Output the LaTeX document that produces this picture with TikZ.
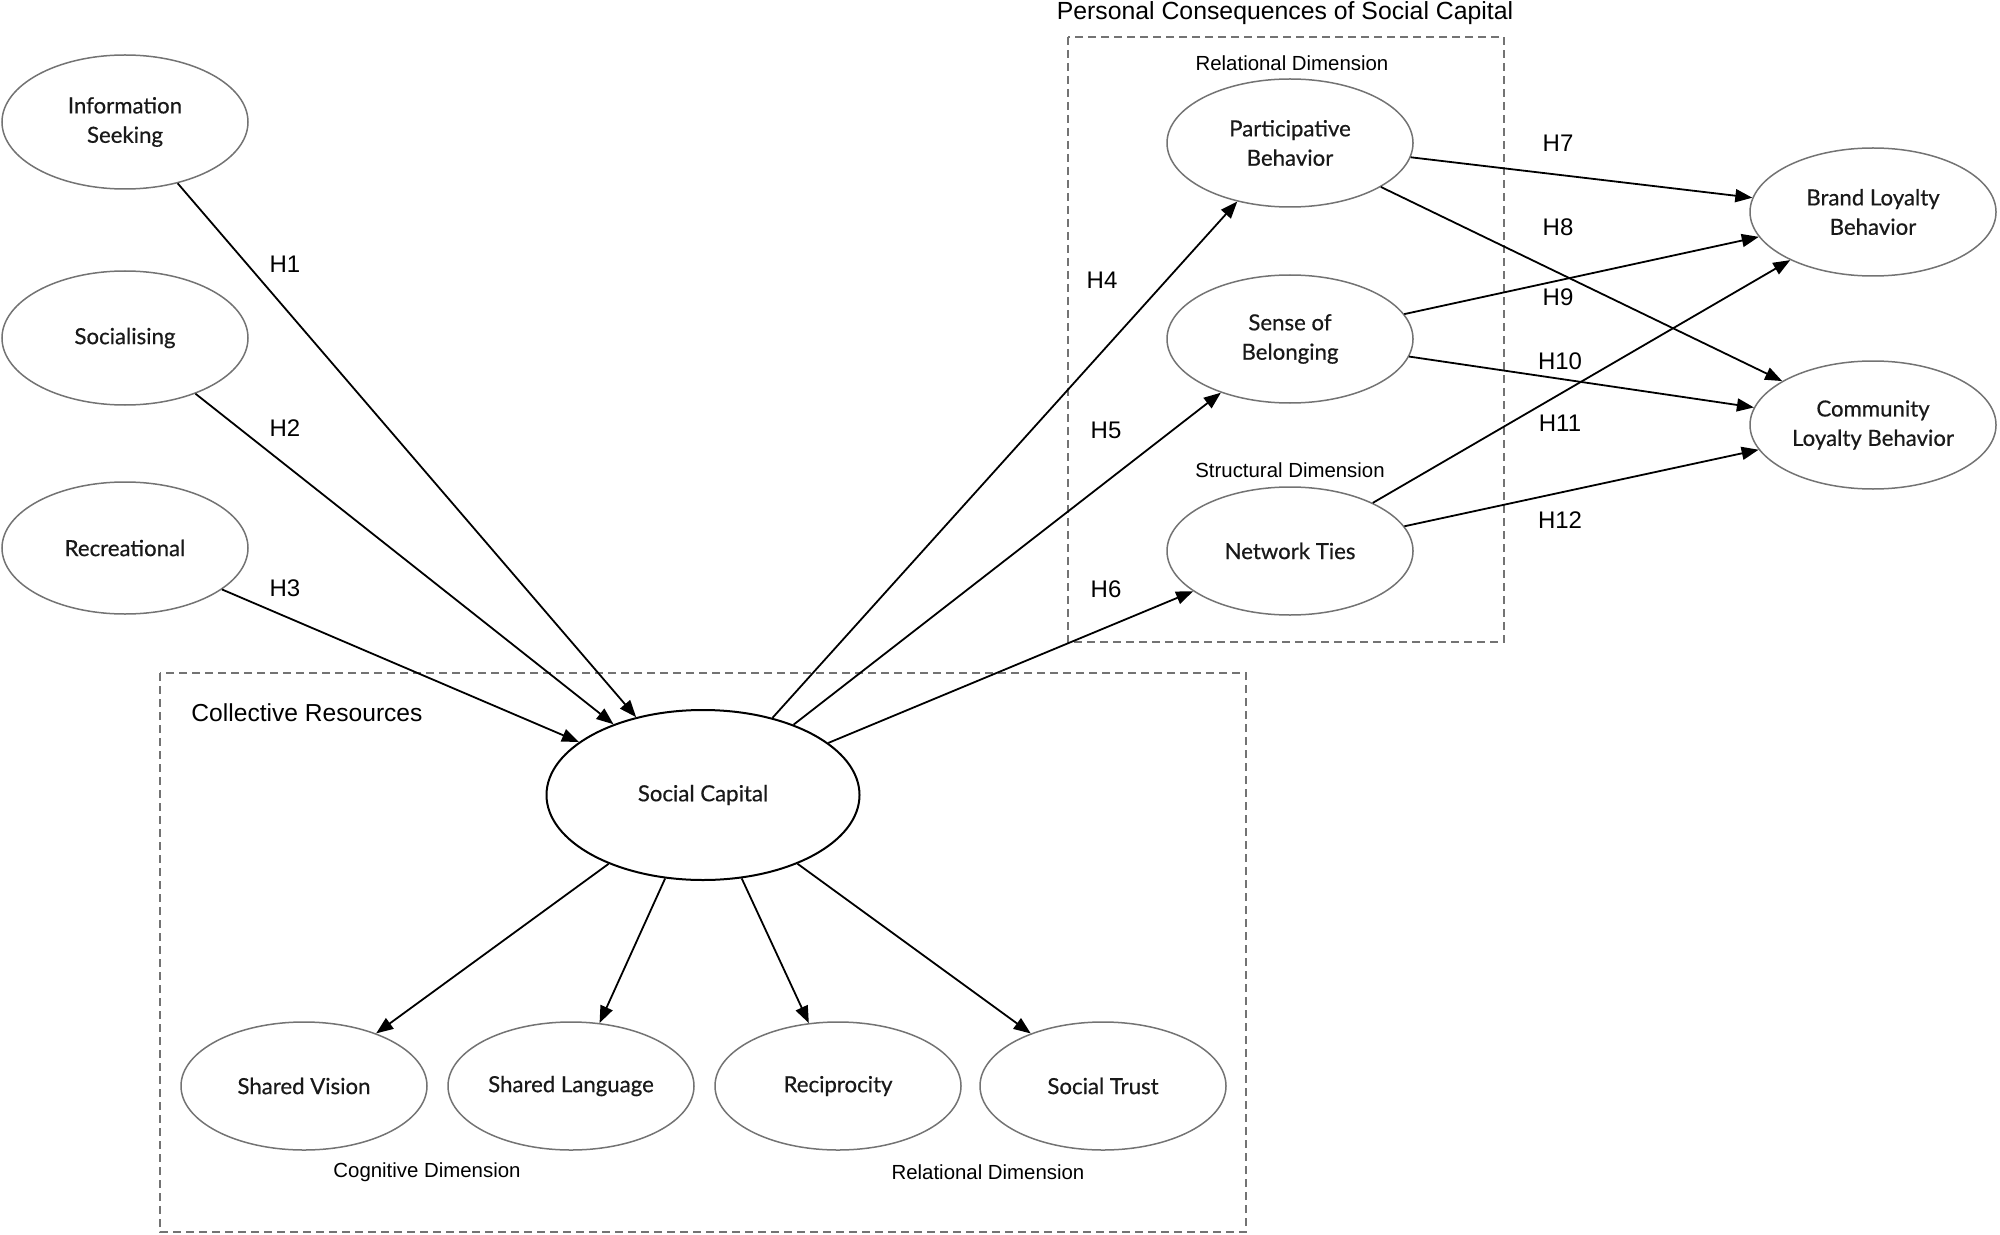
\documentclass[tikz,border=0pt]{standalone}
\usepackage{fontspec}
\setmainfont{Liberation Sans}
\newfontfamily\gill{Lato}[FakeBold=0.5]
\usetikzlibrary{shapes.geometric,arrows.meta}
\begin{document}
\begin{tikzpicture}[x=0.5pt,y=-0.5pt,
  ell/.style={ellipse, draw=black!55, line width=0.75pt, inner sep=0pt,
    minimum width=123pt, minimum height=64pt, align=center, text=black!90,
    font=\gill\fontsize{11.1}{14.7}\selectfont},
  bigell/.style={ell, draw=black, line width=1pt, minimum width=156.5pt, minimum height=85pt},
  arr/.style={-{Triangle[length=8.5pt,width=6.5pt]}, line width=0.9pt},
  hl/.style={font=\fontsize{12}{14}\selectfont},
  dimlbl/.style={font=\fontsize{10.2}{12}\selectfont},
  grp/.style={draw=black!55, dash pattern=on 4pt off 2.5pt, line width=0.7pt}
]
\useasboundingbox (0,0) rectangle (2000,1235);

% group boxes
\draw[grp] (160,673) rectangle (1246,1232);
\draw[grp] (1068,37) rectangle (1504,642);
\node[font=\fontsize{12.4}{14}\selectfont] (tPC) at (1285,13) {Personal Consequences of Social Capital};
\node[font=\fontsize{12.3}{14}\selectfont] (tCR) at (307,713) {Collective Resources};
\node[dimlbl] (tRD1) at (1292,63) {Relational Dimension};
\node[dimlbl] (tSD) at (1290,470) {Structural Dimension};
\node[dimlbl] (tCD) at (427,1172) {Cognitive Dimension};
\node[dimlbl] (tRD2) at (988,1172) {Relational Dimension};

% left
\node[ell, minimum height=67pt] (is) at (125,122) {Information\\Seeking};
\node[ell, minimum height=67pt] (so) at (125,338) {Socialising};
\node[ell, minimum height=66pt] (re) at (125,548) {Recreational};
% centre
\node[bigell] (sc) at (703,795) {Social Capital};
% bottom
\node[ell] (sv) at (304,1086) {Shared Vision};
\node[ell] (sl) at (571,1086) {Shared Language};
\node[ell] (rc) at (838,1086) {Reciprocity};
\node[ell] (st) at (1103,1086) {Social Trust};
% right column
\node[ell] (pb) at (1290,143) {Participative\\Behavior};
\node[ell] (sb) at (1290,339) {Sense of\\Belonging};
\node[ell] (nt) at (1290,551) {Network Ties};
\node[ell] (bl) at (1873,212) {Brand Loyalty\\Behavior};
\node[ell] (cl) at (1873,425) {Community\\Loyalty Behavior};

% edges
\draw[arr] (is) -- (sc);
\draw[arr] (so) -- (sc);
\draw[arr] (re) -- (sc);
\draw[arr] (sc) -- (pb);
\draw[arr] (sc) -- (sb);
\draw[arr] (sc) -- (nt);
\draw[arr] (sc) -- (sv);
\draw[arr] (sc) -- (sl);
\draw[arr] (sc) -- (rc);
\draw[arr] (sc) -- (st);
\draw[arr] (pb) -- (bl);
\draw[arr] (pb) -- (cl);
\draw[arr] (sb) -- (bl);
\draw[arr] (sb) -- (cl);
\draw[arr] (nt) -- (bl);
\draw[arr] (nt) -- (cl);

% hypothesis labels
\node[hl] (h1) at (285,264) {H1};
\node[hl] (h2) at (285,428) {H2};
\node[hl] (h3) at (285,588) {H3};
\node[hl] (h4) at (1102,280) {H4};
\node[hl] (h5) at (1106,430) {H5};
\node[hl] (h6) at (1106,589) {H6};
\node[hl] (h7) at (1558,143) {H7};
\node[hl] (h8) at (1558,227) {H8};
\node[hl] (h9) at (1558,297) {H9};
\node[hl] (h10) at (1560,361) {H10};
\node[hl] (h11) at (1560,423) {H11};
\node[hl] (h12) at (1560,520) {H12};
\end{tikzpicture}
\end{document}
